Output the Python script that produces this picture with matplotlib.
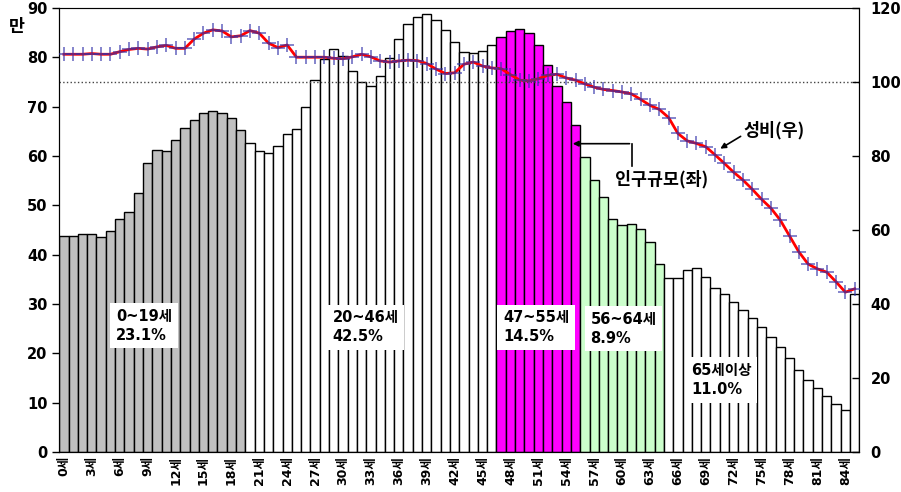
import matplotlib
matplotlib.use("Agg")
import matplotlib.pyplot as plt
import numpy as np

plt.rcParams['font.family'] = ['DejaVu Sans', 'Noto Sans CJK KR']
plt.rcParams['font.weight'] = 'bold'

# === 데이터 ===
ages = list(range(86))
tick_ages = list(range(0, 85, 3))
tick_labels = [f"{a}세" for a in tick_ages]

# 인구규모 (만명)
population = [
    43.8, 43.8, 44.2, 44.2, 43.5, 44.8, 47.3, 48.6, 52.5, 58.5,
    61.3, 61.1, 63.2, 65.7, 67.3, 68.7, 69.1, 68.8, 67.8, 65.3,
    62.6, 61.1, 60.7, 62.0, 64.4, 65.4, 70.0, 75.4, 79.7, 81.7,
    80.2, 77.3, 75.0, 74.2, 76.3, 79.9, 83.8, 86.7, 88.2, 88.7,
    87.6, 85.6, 83.1, 81.1, 80.9, 81.3, 82.5, 84.2, 85.3, 85.7,
    84.9, 82.5, 78.4, 74.2, 70.9, 66.3, 59.8, 55.1, 51.6, 47.3,
    46.0, 46.2, 45.3, 42.5, 38.1, 35.3, 35.3, 36.9, 37.2, 35.4,
    33.3, 32.0, 30.4, 28.8, 27.2, 25.4, 23.3, 21.3, 19.1, 16.6,
    14.5, 12.9, 11.4, 9.7, 8.5, 32.0,
]

# 성비 (여자 100명당 남자)
sex_ratio = [
    107.5, 107.5, 107.5, 107.7, 107.5, 107.5, 108.2, 108.8, 109.1, 108.9,
    109.5, 109.9, 109.1, 109.1, 111.6, 113.2, 114.1, 113.8, 112.2, 112.5,
    113.9, 113.2, 110.5, 109.3, 110.0, 106.7, 106.7, 106.7, 106.7, 106.4,
    106.3, 106.8, 107.5, 106.8, 105.7, 105.4, 105.7, 105.9, 105.8, 105.0,
    103.5, 102.3, 102.5, 104.8, 105.4, 104.3, 103.8, 103.6, 102.0, 100.5,
    100.3, 100.9, 101.8, 102.1, 101.1, 100.5, 99.5, 98.6, 98.0, 97.7,
    97.3, 96.8, 95.3, 93.7, 92.6, 90.4, 86.1, 84.1, 83.4, 82.5,
    80.3, 78.0, 75.6, 73.5, 71.0, 68.3, 65.9, 62.7, 58.4, 54.1,
    50.8, 49.5, 48.6, 46.0, 43.2, 44.1,
]

# 연령 구간: (시작, 끝, 색, 라벨)
groups = [
    (0, 19, "#c0c0c0", "0~19세\n23.1%"),
    (20, 46, "white", "20~46세\n42.5%"),
    (47, 55, "#ff00ff", "47~55세\n14.5%"),
    (56, 64, "#ccffcc", "56~64세\n8.9%"),
    (65, 85, "white", "65세이상\n11.0%"),
]
label_pos = [(5.6, 25.6), (28.9, 25.3), (47.2, 25.3), (56.6, 25.0), (67.4, 14.6)]

colors = []
for a in ages:
    for g0, g1, c, _ in groups:
        if g0 <= a <= g1:
            colors.append(c)

# === 그래프 ===
fig = plt.figure(figsize=(9.01, 4.92), dpi=100)
ax = fig.add_axes([0.0658, 0.0813, 0.8879, 0.9024])
ax.bar(ages, population, width=1.0, color=colors, edgecolor="black", linewidth=1.0, zorder=2)
ax.set_xlim(-0.5, 85.5)
ax.set_ylim(0, 90)
ax.set_yticks(range(0, 91, 10))
ax.set_xticks(tick_ages)
ax.set_xticklabels(tick_labels, rotation=90, fontsize=9, fontweight="bold")
ax.tick_params(axis="x", length=0, pad=3)
ax.tick_params(axis="y", labelsize=10.5, length=5, width=1)
ax.spines["top"].set_color("#888888")
ax.text(-0.053, 0.958, "만", transform=ax.transAxes, fontsize=12.5, fontweight="bold",
        family=["Noto Sans CJK KR"], ha="center", va="center")

for (g0, g1, c, txt), (x, y) in zip(groups, label_pos):
    ax.text(x, y, txt, fontsize=10.5, fontweight="bold", ha="left", va="center",
            linespacing=1.35, zorder=5,
            bbox=dict(facecolor="white", edgecolor="none", pad=4))

ax2 = ax.twinx()
ax2.set_ylim(0, 120)
ax2.set_yticks(range(0, 121, 20))
ax2.tick_params(axis="y", direction="in", labelsize=10.5, length=5, width=1, pad=8)
ax2.axhline(100, color="#444444", linestyle=":", linewidth=1, zorder=1)
ax2.plot(ages, sex_ratio, color="red", linewidth=2, zorder=3)
ax2.plot(ages, sex_ratio, linestyle="none", marker="+", markersize=10,
         markeredgewidth=1.2, color="#3333aa", alpha=0.7, zorder=4)

# 주석
ax.annotate("", xy=(54.4, 62.5), xytext=(61.1, 62.5),
            arrowprops=dict(arrowstyle="-|>", color="black", lw=1.2, mutation_scale=8))
ax.plot([61.1, 61.1], [62.5, 58.0], color="black", lw=1.2)
ax.text(59.2, 55.2, "인구규모(좌)", fontsize=12.5, fontweight="bold",
        family=["Noto Sans CJK KR"], ha="left", va="center")

ax2.annotate("", xy=(70.3, 81.6), xytext=(73.0, 85.7),
             arrowprops=dict(arrowstyle="-|>", color="black", lw=1.2, mutation_scale=8))
ax2.text(73.0, 87.0, "성비(우)", fontsize=12.5, fontweight="bold",
         family=["Noto Sans CJK KR"], ha="left", va="center")

fig.savefig("out.png", dpi=100)
